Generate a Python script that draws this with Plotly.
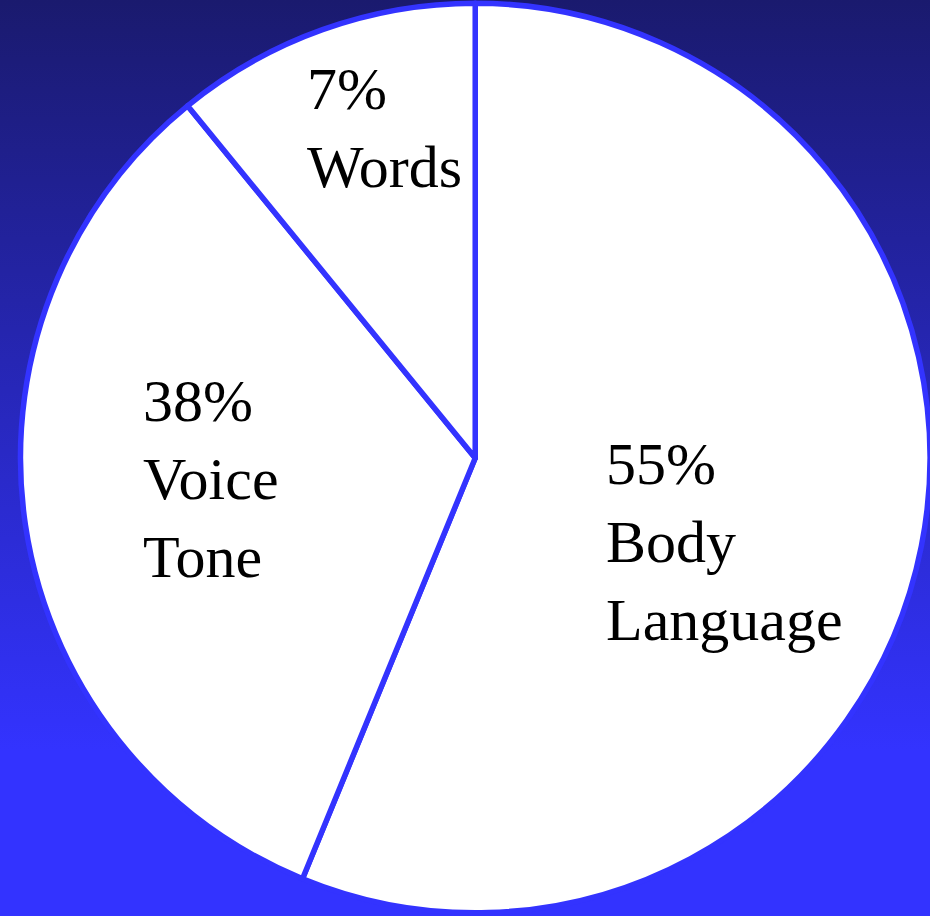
import base64
import plotly.graph_objects as go

# Slice sizes as drawn (angles), and their printed labels
categories = ["Body Language", "Voice Tone", "Words"]
slice_values = [56.2, 32.9, 10.9]
percent_labels = ["55%", "38%", "7%"]
label_lines = [["Body", "Language"], ["Voice", "Tone"], ["Words"]]

W, H = 930, 916
FONT = "Liberation Serif, Times New Roman, serif"
FS = 60

# label block anchors (pixel positions of left edge / vertical middle)
label_left = [604, 141, 305]
label_mid = [542, 479, 128]

svg = (
    '<svg xmlns="http://www.w3.org/2000/svg" width="930" height="916" viewBox="0 0 930 916" '
    'preserveAspectRatio="none"><defs><linearGradient id="g" x1="0" y1="0" x2="0" y2="1">'
    '<stop offset="0" stop-color="#1a1a6e"/><stop offset="0.82" stop-color="#3333ff"/>'
    '<stop offset="1" stop-color="#3333ff"/></linearGradient></defs>'
    '<rect x="0" y="0" width="930" height="916" fill="url(#g)"/></svg>'
)
bg_src = "data:image/svg+xml;base64," + base64.b64encode(svg.encode()).decode()

fig = go.Figure(
    go.Pie(
        labels=categories,
        values=slice_values,
        sort=False,
        direction="clockwise",
        rotation=0,
        textinfo="none",
        hoverinfo="label",
        marker=dict(colors=["#ffffff"] * 3, line=dict(color="#3333ff", width=5.5)),
        domain=dict(x=[0.022, 1.0], y=[0.0, 1.0]),
        showlegend=False,
    )
)

annotations = []
for pct, lines, lx, my in zip(percent_labels, label_lines, label_left, label_mid):
    annotations.append(
        dict(
            text="<br>".join([pct] + lines),
            x=lx / W,
            y=1 - my / H,
            xref="paper",
            yref="paper",
            xanchor="left",
            yanchor="middle",
            align="left",
            showarrow=False,
            font=dict(family=FONT, size=FS, color="#000000"),
        )
    )

fig.update_layout(
    width=W,
    height=H,
    margin=dict(l=0, r=0, t=0, b=0),
    paper_bgcolor="#2626b0",
    plot_bgcolor="rgba(0,0,0,0)",
    images=[
        dict(
            source=bg_src,
            xref="paper",
            yref="paper",
            x=0,
            y=1,
            sizex=1,
            sizey=1,
            sizing="stretch",
            layer="below",
            xanchor="left",
            yanchor="top",
        )
    ],
    annotations=annotations,
)

fig.write_html(
    "out.html",
    config={"displayModeBar": False},
    post_script="document.body.style.margin='0';document.body.style.overflow='hidden';",
)
